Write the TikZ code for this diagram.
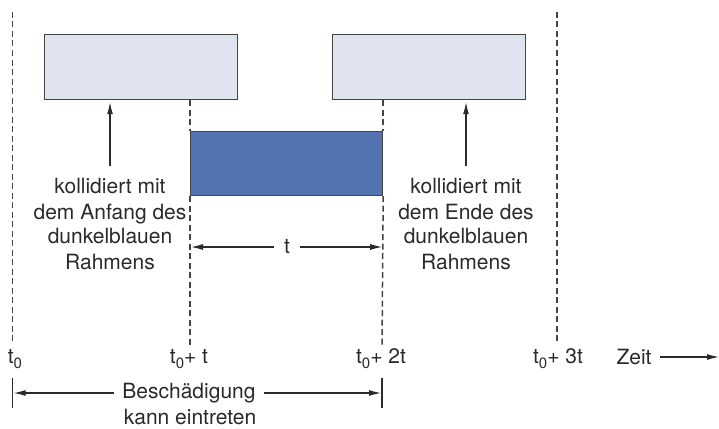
\documentclass[tikz,border=0pt]{standalone}
\usepackage{fontspec}
\setmainfont{TeX Gyre Heros}
\usetikzlibrary{arrows.meta}
\definecolor{lightfill}{HTML}{E0E4F0}
\definecolor{darkfill}{HTML}{5272B0}
\definecolor{edgegray}{HTML}{444444}
\definecolor{txtgray}{HTML}{2A2A2A}
\newcommand\lowsub[1]{\raisebox{-0.45ex}{\fontsize{15}{15}\selectfont #1}}
\tikzset{
  lightbox/.style={draw=edgegray, fill=lightfill, line width=1.2pt, inner sep=0pt, anchor=north west},
  darkbox/.style={draw=edgegray, fill=darkfill, line width=1.2pt, inner sep=0pt, anchor=north west},
  dashline/.style={draw=edgegray, line width=1.5pt, dash pattern=on 6pt off 3.5pt},
  bar/.style={draw=txtgray, line width=1.2pt},
  arr/.style={draw=txtgray, line width=1.1pt, -{Latex[length=12pt,width=6pt]}},
  txt/.style={text=txtgray, font=\fontsize{21}{25}\selectfont, inner sep=0pt, align=center},
}
\begin{document}
\begin{tikzpicture}[x=1pt,y=-1pt]
\useasboundingbox (0,0) rectangle (719,428);
% boxes
\node[lightbox, minimum width=193pt, minimum height=65pt] (b1) at (44,34) {};
\node[lightbox, minimum width=193pt, minimum height=65pt] (b2) at (332,34) {};
\node[darkbox, minimum width=192pt, minimum height=64pt] (d) at (190,131) {};
% dashed time lines
\coordinate (l0t) at (12.7,12);   \coordinate (l0b) at (12.7,343);
\coordinate (l1b) at (190,347);
\coordinate (l2b) at (382,347);
\coordinate (l3t) at (557,12);    \coordinate (l3b) at (557,343);
\draw[dashline] (l0t) -- (l0b);
\draw[dashline] (b1.south -| d.west) -- (d.north west);
\draw[dashline] (d.south west) -- (l1b);
\draw[dashline] (b2.south -| d.east) -- (d.north east);
\draw[dashline] (d.south east) -- (l2b);
\draw[dashline] (l3t) -- (l3b);
% explanatory texts
\node[txt] (L) at (110,224) {kollidiert mit\\dem Anfang des\\dunkelblauen\\Rahmens};
\node[txt] (R) at (466,224) {kollidiert mit\\dem Ende des\\dunkelblauen\\Rahmens};
\coordinate (a1) at (110,166);
\coordinate (a2) at (466,166);
\draw[arr, shorten >=2pt] (a1) -- (a1 |- b1.south);
\draw[arr, shorten >=2pt] (a2) -- (a2 |- b2.south);
% t span
\node[txt, inner xsep=10pt] (t) at (287,247) {t};
\draw[arr, shorten >=1pt] (t.west) -- (t.west -| d.west);
\draw[arr, shorten >=1pt] (t.east) -- (t.east -| d.east);
% time labels
\node[txt] (T0) at (15,359) {t\lowsub{0}};
\node[txt] (T1) at (189,359) {t\lowsub{0}+ t};
\node[txt] (T2) at (381,359) {t\lowsub{0}+ 2t};
\node[txt] (T3) at (558,359) {t\lowsub{0}+ 3t};
\node[txt, inner xsep=8pt] (Z) at (634,357) {Zeit};
\coordinate (zend) at (719,357);
\draw[arr] (Z.east) -- (zend);
% damage span
\coordinate (p0t) at (12.7,378); \coordinate (p0b) at (12.7,408);
\coordinate (p2t) at (382,378);  \coordinate (p2b) at (382,408);
\draw[bar] (p0t) -- (p0b);
\draw[bar] (p2t) -- (p2b);
\node[txt, inner xsep=8pt] (B) at (189,393) {Beschädigung};
\node[txt] (K) at (190,417) {kann eintreten};
\draw[arr, shorten >=1pt] (B.west) -- (B.west -| p0t);
\draw[arr, shorten >=1pt] (B.east) -- (B.east -| p2t);
\end{tikzpicture}
\end{document}
